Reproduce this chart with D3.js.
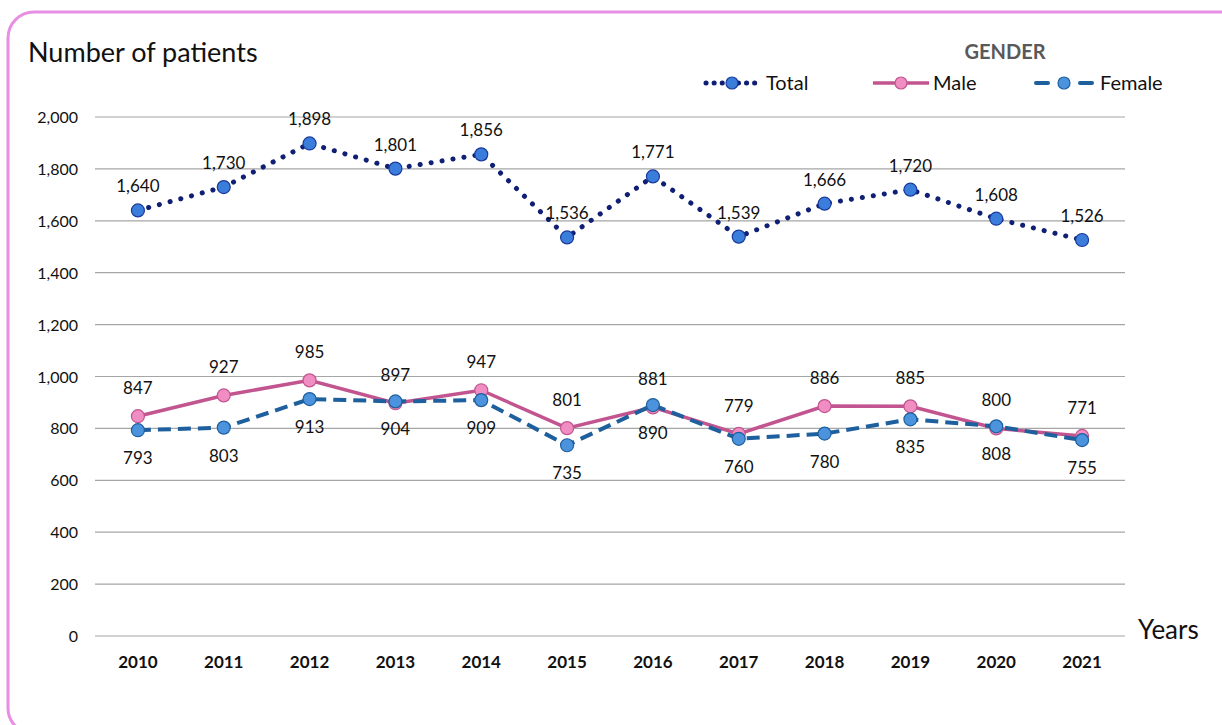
<!DOCTYPE html>
<html>
<head>
<meta charset="utf-8">
<script src="https://cdn.jsdelivr.net/npm/d3@7"></script>
<style>
  body { margin: 0; background: #fff; }
  svg { display: block; font-family: Lato, "Open Sans", sans-serif; }
</style>
</head>
<body>
<svg id="chart" width="1222" height="725"></svg>
<script>
// Données
const years = ["2010", "2011", "2012", "2013", "2014", "2015", "2016", "2017", "2018", "2019", "2020", "2021"];
const total = [1640, 1730, 1898, 1801, 1856, 1536, 1771, 1539, 1666, 1720, 1608, 1526];
const male = [847, 927, 985, 897, 947, 801, 881, 779, 886, 885, 800, 771];
const female = [793, 803, 913, 904, 909, 735, 890, 760, 780, 835, 808, 755];
const yTicks = [0, 200, 400, 600, 800, 1000, 1200, 1400, 1600, 1800, 2000];

const svg = d3.select("#chart");

// Cadre rose arrondi
svg.append("rect")
  .attr("x", 8).attr("y", 12)
  .attr("width", 1240).attr("height", 722)
  .attr("rx", 26)
  .attr("fill", "#fff")
  .attr("stroke", "#e88ee3")
  .attr("stroke-width", 3);

const plotLeft = 95, plotRight = 1125, plotTop = 117, plotBottom = 636;

const x = d3.scaleBand().domain(years).range([plotLeft, plotRight]);
const y = d3.scaleLinear().domain([0, 2000]).range([plotBottom, plotTop]);
const cx = (d) => x(d) + x.bandwidth() / 2;

// Grille
svg.append("g")
  .selectAll("line")
  .data(yTicks)
  .enter()
  .append("line")
  .attr("x1", plotLeft).attr("x2", plotRight)
  .attr("y1", (d) => y(d)).attr("y2", (d) => y(d))
  .attr("stroke", "#a6a6a6")
  .attr("stroke-width", 1.2);

// Axe Y
const fmt = d3.format(",");
svg.append("g")
  .selectAll("text")
  .data(yTicks)
  .enter()
  .append("text")
  .attr("x", 78)
  .attr("y", (d) => y(d) + 6)
  .attr("text-anchor", "end")
  .attr("font-size", 16)
  .attr("fill", "#111")
  .text((d) => fmt(d));

// Axe X
svg.append("g")
  .selectAll("text")
  .data(years)
  .enter()
  .append("text")
  .attr("x", (d) => cx(d))
  .attr("y", 668)
  .attr("text-anchor", "middle")
  .attr("font-size", 17)
  .attr("font-weight", "bold")
  .attr("fill", "#111")
  .text((d) => d);

// Titres
svg.append("text").attr("x", 28).attr("y", 62)
  .attr("font-size", 27).attr("fill", "#111").text("Number of patients");
svg.append("text").attr("x", 1138).attr("y", 639)
  .attr("font-size", 26).attr("fill", "#111").text("Years");

const series = [
  { name: "Total", values: total, line: "#0f1f73", width: 5, dash: "0.1 11", cap: "round",
    fill: "#3b7ddb", stroke: "#1a3a9c", labelDy: -18, fmt: fmt },
  { name: "Male", values: male, line: "#c2558f", width: 3.5, dash: null, cap: "butt",
    fill: "#f08dc2", stroke: "#c2558f", labelDy: -22, fmt: (d) => d },
  { name: "Female", values: female, line: "#1e5f9e", width: 4, dash: "13 7", cap: "butt",
    fill: "#4b93dd", stroke: "#1e5f9e", labelDy: 34, fmt: (d) => d },
];

const line = d3.line().x((d) => cx(d.year)).y((d) => y(d.v));

series.forEach((s) => {
  const pts = years.map((yr, i) => ({ year: yr, v: s.values[i] }));
  svg.append("path")
    .datum(pts)
    .attr("d", line)
    .attr("fill", "none")
    .attr("stroke", s.line)
    .attr("stroke-width", s.width)
    .attr("stroke-linecap", s.cap)
    .attr("stroke-dasharray", s.dash);
  svg.append("g")
    .selectAll("circle")
    .data(pts)
    .enter()
    .append("circle")
    .attr("cx", (d) => cx(d.year))
    .attr("cy", (d) => y(d.v))
    .attr("r", 6.5)
    .attr("fill", s.fill)
    .attr("stroke", s.stroke)
    .attr("stroke-width", 1.2);
  svg.append("g")
    .selectAll("text")
    .data(pts)
    .enter()
    .append("text")
    .attr("x", (d) => cx(d.year))
    .attr("y", (d) => y(d.v) + s.labelDy)
    .attr("text-anchor", "middle")
    .attr("font-size", 17)
    .attr("fill", "#111")
    .text((d) => s.fmt(d.v));
});

// Légende
svg.append("text").attr("x", 1005).attr("y", 59)
  .attr("text-anchor", "middle").attr("font-size", 20).attr("font-weight", "bold")
  .attr("fill", "#595959").text("GENDER");

const legend = [
  { s: series[0], x1: 706, x2: 758, tx: 766 },
  { s: series[1], x1: 873, x2: 929, tx: 933 },
  { s: series[2], x1: 1036, x2: 1092, tx: 1100 },
];
legend.forEach((l) => {
  const ly = 83;
  svg.append("line")
    .attr("x1", l.x1).attr("x2", l.x2).attr("y1", ly).attr("y2", ly)
    .attr("stroke", l.s.line)
    .attr("stroke-width", l.s.width)
    .attr("stroke-linecap", l.s.name === "Female" ? "round" : l.s.cap)
    .attr("stroke-dasharray", l.s.name === "Total" ? "0.1 8" : (l.s.name === "Female" ? "12 32" : null));
  svg.append("circle")
    .attr("cx", (l.x1 + l.x2) / 2).attr("cy", ly).attr("r", 6)
    .attr("fill", l.s.fill).attr("stroke", l.s.stroke).attr("stroke-width", 1.2);
  svg.append("text")
    .attr("x", l.tx).attr("y", ly + 7)
    .attr("font-size", 20).attr("fill", "#111")
    .text(l.s.name);
});
</script>
</body>
</html>
